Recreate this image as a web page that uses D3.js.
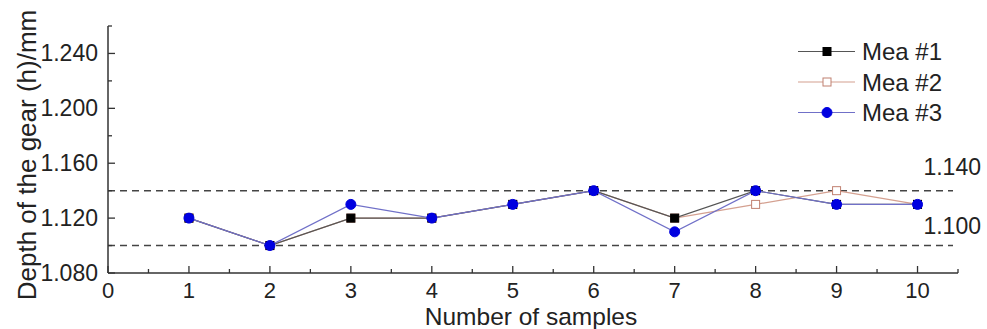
<!DOCTYPE html>
<html>
<head>
<meta charset="utf-8">
<script src="https://cdn.jsdelivr.net/npm/d3@7"></script>
<style>
  body { margin: 0; background: #fff; }
  text { font-family: "Liberation Sans", Arial, sans-serif; fill: #222; }
</style>
</head>
<body>
<svg class="s"></svg>
<script>
var samples = [1, 2, 3, 4, 5, 6, 7, 8, 9, 10];
var mea1 = [1.12, 1.10, 1.12, 1.12, 1.13, 1.14, 1.12, 1.14, 1.13, 1.13];
var mea2 = [1.12, 1.10, 1.12, 1.12, 1.13, 1.14, 1.12, 1.13, 1.14, 1.13];
var mea3 = [1.12, 1.10, 1.13, 1.12, 1.13, 1.14, 1.11, 1.14, 1.13, 1.13];
var seriesNames = ['Mea #1', 'Mea #2', 'Mea #3'];
var yTicks = [1.08, 1.12, 1.16, 1.20, 1.24];
var xTicks = [0, 1, 2, 3, 4, 5, 6, 7, 8, 9, 10];
var limits = [1.14, 1.10];

var w = 987;
var h = 329;

var svg = d3.select('.s')
            .attr('width', w)
            .attr('height', h);

var x = d3.scaleLinear().domain([0, 10.5]).range([108, 958]);
var y = d3.scaleLinear().domain([1.08, 1.26]).range([273, 26]);

var axisColor = '#333';

// limit lines
svg.selectAll('.limit')
   .data(limits)
   .enter()
   .append('line')
   .attr('x1', x(0))
   .attr('x2', 953)
   .attr('y1', function(d){ return y(d); })
   .attr('y2', function(d){ return y(d); })
   .attr('stroke', '#444')
   .attr('stroke-width', 1.5)
   .attr('stroke-dasharray', '7,5');

svg.selectAll('.limitLabel')
   .data(limits)
   .enter()
   .append('text')
   .attr('x', 981)
   .attr('y', function(d, i){ return y(d) - (i == 0 ? 24 : 20); })
   .attr('text-anchor', 'end')
   .attr('dominant-baseline', 'central')
   .style('font-size', '23px')
   .text(function(d){ return d.toFixed(3); });

// axes
var xAxis = svg.append('g');
xAxis.append('line')
     .attr('x1', x(0)).attr('x2', x(10.5))
     .attr('y1', y(1.08)).attr('y2', y(1.08))
     .attr('stroke', axisColor).attr('stroke-width', 1.5);
xAxis.selectAll('.maj')
     .data(xTicks)
     .enter()
     .append('line')
     .attr('x1', function(d){ return x(d); })
     .attr('x2', function(d){ return x(d); })
     .attr('y1', y(1.08)).attr('y2', y(1.08) - 7)
     .attr('stroke', axisColor).attr('stroke-width', 1.3);
xAxis.selectAll('.min')
     .data(d3.range(0.5, 10.6, 1))
     .enter()
     .append('line')
     .attr('x1', function(d){ return x(d); })
     .attr('x2', function(d){ return x(d); })
     .attr('y1', y(1.08)).attr('y2', y(1.08) - 4)
     .attr('stroke', axisColor).attr('stroke-width', 1.3);
xAxis.selectAll('.lab')
     .data(xTicks)
     .enter()
     .append('text')
     .attr('x', function(d){ return x(d); })
     .attr('y', 290)
     .attr('text-anchor', 'middle')
     .attr('dominant-baseline', 'central')
     .style('font-size', '22px')
     .text(function(d){ return d; });

var yAxis = svg.append('g');
yAxis.append('line')
     .attr('x1', x(0)).attr('x2', x(0))
     .attr('y1', y(1.08)).attr('y2', y(1.26))
     .attr('stroke', axisColor).attr('stroke-width', 1.5);
yAxis.selectAll('.maj')
     .data(yTicks)
     .enter()
     .append('line')
     .attr('x1', x(0)).attr('x2', x(0) + 7)
     .attr('y1', function(d){ return y(d); })
     .attr('y2', function(d){ return y(d); })
     .attr('stroke', axisColor).attr('stroke-width', 1.3);
yAxis.selectAll('.min')
     .data([1.10, 1.14, 1.18, 1.22, 1.26])
     .enter()
     .append('line')
     .attr('x1', x(0)).attr('x2', x(0) + 4)
     .attr('y1', function(d){ return y(d); })
     .attr('y2', function(d){ return y(d); })
     .attr('stroke', axisColor).attr('stroke-width', 1.3);
yAxis.selectAll('.lab')
     .data(yTicks)
     .enter()
     .append('text')
     .attr('x', 98)
     .attr('y', function(d){ return y(d); })
     .attr('text-anchor', 'end')
     .attr('dominant-baseline', 'central')
     .style('font-size', '23px')
     .text(function(d){ return d.toFixed(3); });

svg.append('text')
   .attr('x', 531)
   .attr('y', 325)
   .attr('text-anchor', 'middle')
   .style('font-size', '24.5px')
   .text('Number of samples');

svg.append('text')
   .attr('transform', 'translate(36,155) rotate(-90)')
   .attr('text-anchor', 'middle')
   .style('font-size', '26px')
   .text('Depth of the gear (h)/mm');

// series
var series = [
  {name: seriesNames[0], values: mea1, line: '#555', marker: 'square', fill: '#000', stroke: '#000'},
  {name: seriesNames[1], values: mea2, line: '#d4a090', marker: 'square', fill: '#fff', stroke: '#c08070'},
  {name: seriesNames[2], values: mea3, line: '#7070c8', marker: 'circle', fill: '#0000e0', stroke: '#0000e0'}
];

var lineGen = d3.line()
                .x(function(d, i){ return x(samples[i]); })
                .y(function(d){ return y(d); });

var drawMarker = function(g, s, cx, cy){
  if (s.marker == 'circle') {
    g.append('circle')
     .attr('cx', cx).attr('cy', cy).attr('r', 5)
     .attr('fill', s.fill).attr('stroke', s.stroke);
  } else {
    g.append('rect')
     .attr('x', cx - 4).attr('y', cy - 4)
     .attr('width', 8).attr('height', 8)
     .attr('fill', s.fill).attr('stroke', s.stroke).attr('stroke-width', 1);
  }
};

// Mea #2 sits underneath Mea #1, Mea #3 on top
[series[1], series[0], series[2]].forEach(function(s){
  var g = svg.append('g');
  g.append('path')
   .attr('d', lineGen(s.values))
   .attr('fill', 'none')
   .attr('stroke', s.line)
   .attr('stroke-width', 1.2);
  s.values.forEach(function(v, i){
    drawMarker(g, s, x(samples[i]), y(v));
  });
});

// legend
var legendY = [51.5, 82, 112.5];
series.forEach(function(s, i){
  var g = svg.append('g');
  g.append('line')
   .attr('x1', 798).attr('x2', 855)
   .attr('y1', legendY[i]).attr('y2', legendY[i])
   .attr('stroke', s.line).attr('stroke-width', 1.2);
  drawMarker(g, s, 827, legendY[i]);
  g.append('text')
   .attr('x', 862)
   .attr('y', legendY[i])
   .attr('dominant-baseline', 'central')
   .style('font-size', '24px')
   .text(s.name);
});
</script>
</body>
</html>
